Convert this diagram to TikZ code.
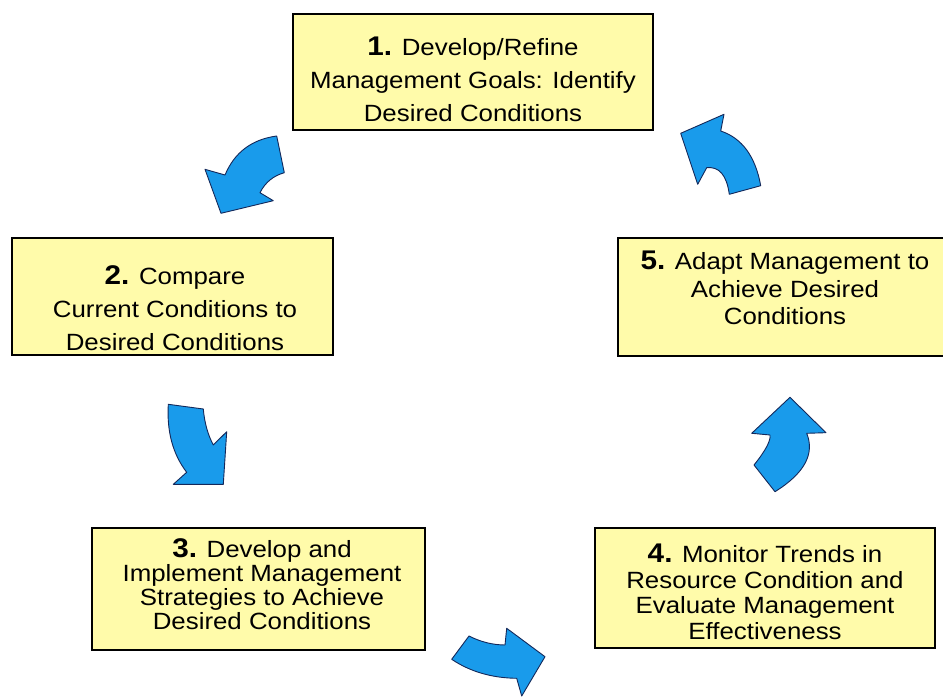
\documentclass[tikz,border=0pt]{standalone}
\usepackage{fontspec}
\setmainfont{Liberation Sans}[FakeStretch=1.1]
\definecolor{boxfill}{RGB}{255,251,170}
\definecolor{arrfill}{RGB}{25,155,235}
\definecolor{arrline}{RGB}{20,40,90}
\begin{document}
\begin{tikzpicture}[x=1pt,y=-1pt,
  box/.style={draw=black, line width=2.5pt, fill=boxfill, rectangle, inner sep=0pt},
  txt/.style={align=center, inner sep=0pt},
  carrow/.style={fill=arrfill, draw=arrline, line width=0.9pt, line join=round}]
\useasboundingbox (0,0) rectangle (943,698);
\fill[white] (0,0) rectangle (943,698);
% boxes
\node[box, minimum width=360pt, minimum height=116pt] (b1) at (473,72) {};
\node[box, minimum width=321pt, minimum height=117pt] (b2) at (172.5,296.5) {};
\node[box, minimum width=333pt, minimum height=122pt] (b3) at (258.5,589) {};
\node[box, minimum width=340pt, minimum height=120pt] (b4) at (765,588) {};
\node[box, minimum width=334pt, minimum height=118pt] (b5) at (785,297) {};
% texts
\newcommand{\numb}[1]{{\bfseries\fontsize{27}{27}\selectfont #1}}
\node[txt, font=\fontsize{23.5}{33}\selectfont] (t1) at (473,79)
  {\numb{1.} Develop/Refine\\Management Goals: Identify\\Desired Conditions};
\node[txt, font=\fontsize{23.5}{33}\selectfont] (t2) at (175,308)
  {\numb{2.} Compare\\Current Conditions to\\Desired Conditions};
\node[txt, font=\fontsize{23.5}{24}\selectfont] (t3) at (262,584)
  {\numb{3.} Develop and\\Implement Management\\Strategies to Achieve\\Desired Conditions};
\node[txt, font=\fontsize{23.5}{25.5}\selectfont] (t4) at (765,592)
  {\numb{4.} Monitor Trends in\\Resource Condition and\\Evaluate Management\\Effectiveness};
\node[txt, font=\fontsize{23.5}{27.5}\selectfont] (t5) at (785,288)
  {\numb{5.} Adapt Management to\\Achieve Desired\\Conditions};
% curved block arrows
\draw[carrow] (276.7,136) .. controls (251.7,139.4) and (234.5,152.4) .. (225,175)
  -- (205,169.3) -- (221,213.3) -- (273.3,200.7) -- (260,192.7)
  .. controls (265.2,182.4) and (273.3,175.8) .. (284.3,172.7) -- cycle;
\draw[carrow] (168.3,404.3) -- (203.3,409) .. controls (204.5,422.7) and (207.8,434.7) .. (213.3,445)
  -- (226.7,431.7) -- (223.3,484.3) -- (173.3,484.3) -- (186.7,472.3)
  .. controls (172.8,454.2) and (166.7,431.5) .. (168.3,404.3) -- cycle;
\draw[carrow] (451.7,659.3) -- (469,636) .. controls (480.6,641.9) and (492.6,644.9) .. (505,645)
  -- (506.7,628.3) -- (545,656.7) -- (521.7,696) -- (516.7,678.3)
  .. controls (491.7,678) and (470,671.6) .. (451.7,659.3) -- cycle;
\draw[carrow] (790,397.3) -- (826,432.7) -- (806.7,433.3)
  .. controls (815,453.8) and (804.5,473.3) .. (775,491.7)
  -- (754,465) .. controls (765.6,450.6) and (770.9,440.6) .. (770,435)
  -- (751.7,433.3) -- cycle;
\draw[carrow] (680.7,133.3) -- (724,114.3) -- (720.7,131)
  .. controls (742,138.1) and (755.4,156.3) .. (760.7,185.7)
  -- (729.3,194.3) .. controls (726.7,175.2) and (719.2,166.3) .. (706.7,167.7)
  -- (697.7,184.3) -- cycle;
\end{tikzpicture}
\end{document}
